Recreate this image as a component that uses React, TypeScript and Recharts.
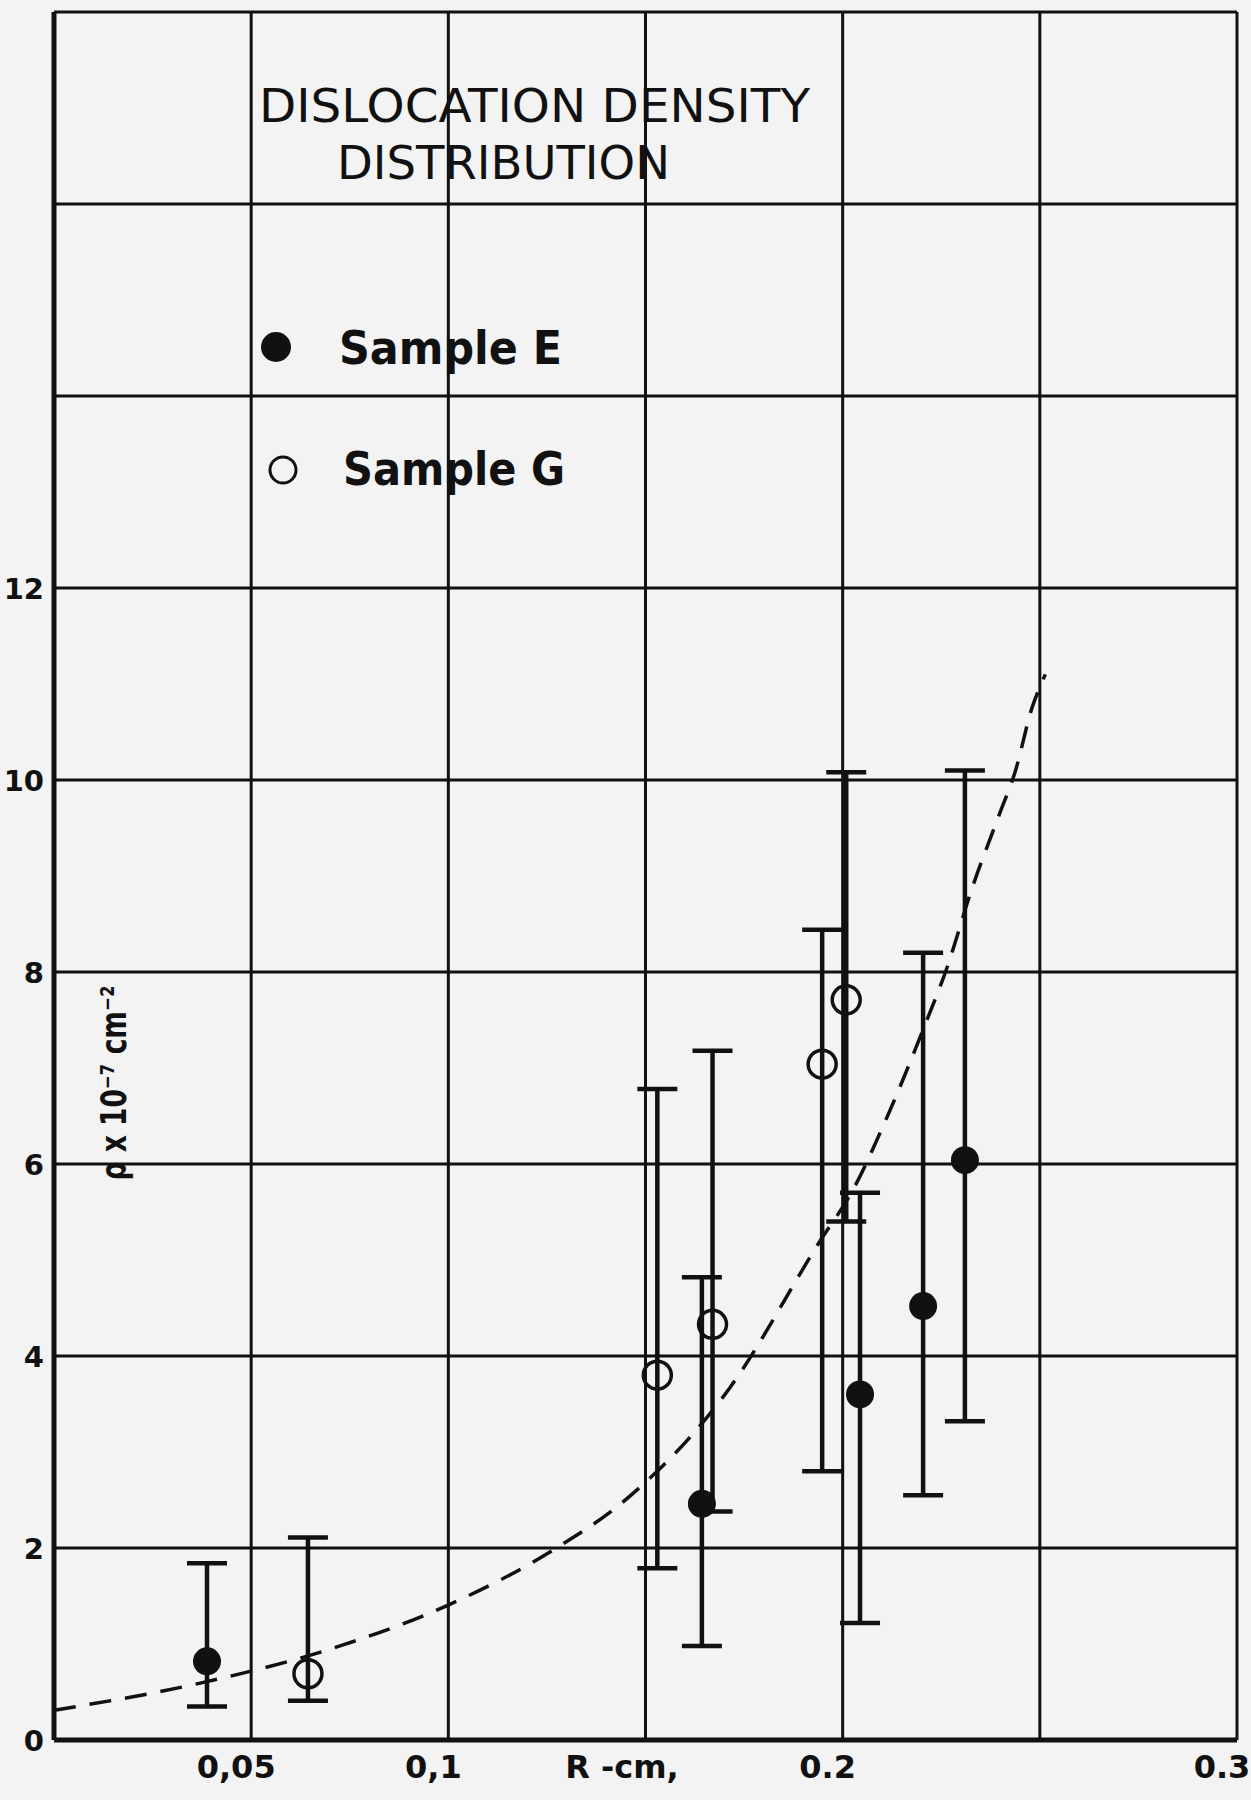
import React from "react";
import { ComposedChart, Scatter, Line, XAxis, YAxis, CartesianGrid, ErrorBar } from "recharts";

// Sample E (filled circles): R in cm, rho x 10^7 cm^-2, error bar low / high
const sampleEX = [0.0388, 0.1643, 0.2044, 0.2204, 0.231];
const sampleEY = [0.82, 2.46, 3.6, 4.52, 6.04];
const sampleELo = [0.35, 0.98, 1.22, 2.55, 3.32];
const sampleEHi = [1.84, 4.82, 5.7, 8.2, 10.1];

// Sample G (open circles)
const sampleGX = [0.0644, 0.153, 0.167, 0.1948, 0.2009];
const sampleGY = [0.69, 3.8, 4.33, 7.04, 7.71];
const sampleGLo = [0.41, 1.79, 2.38, 2.8, 5.4];
const sampleGHi = [2.11, 6.78, 7.18, 8.44, 10.08];

// dashed fit curve
const curveX = [0, 0.0368, 0.0733, 0.0997, 0.1278, 0.144, 0.1714, 0.1943, 0.2026, 0.2102, 0.2204, 0.2265, 0.2328, 0.2399, 0.2437, 0.248, 0.2514];
const curveY = [0.31, 0.59, 0.99, 1.4, 2.01, 2.47, 3.67, 5.2, 5.73, 6.39, 7.4, 8.05, 8.87, 9.66, 10.08, 10.75, 11.1];

const xTicks = [0, 0.05, 0.1, 0.15, 0.2, 0.25, 0.3];
const xTickLabels: Record<string, string> = { "0.05": "0,05", "0.1": "0,1", "0.2": "0.2", "0.3": "0.3" };
const yTicks = [0, 2, 4, 6, 8, 10, 12, 14, 16, 18];
const yLabelMax = 12;

const INK = "#111";
const FONT = "'DejaVu Sans', sans-serif";

const toPoints = (xs: number[], ys: number[], lo: number[], hi: number[]) =>
  xs.map((x, i) => ({ x, y: ys[i], err: [ys[i] - lo[i], hi[i] - ys[i]] }));

const eData = toPoints(sampleEX, sampleEY, sampleELo, sampleEHi);
const gData = toPoints(sampleGX, sampleGY, sampleGLo, sampleGHi);
const curveData = curveX.map((x, i) => ({ x, y: curveY[i] }));

function FilledDot(props: any) {
  const { cx, cy } = props;
  if (cx == null || cy == null) return null;
  return <circle cx={cx} cy={cy} r={14} fill={INK} />;
}

function OpenDot(props: any) {
  const { cx, cy } = props;
  if (cx == null || cy == null) return null;
  return <circle cx={cx} cy={cy} r={14} fill="none" stroke={INK} strokeWidth={3.5} />;
}

function XTick(props: any) {
  const { x, y, payload } = props;
  const label = xTickLabels[String(payload.value)];
  if (!label) return null;
  return (
    <text x={x - 15} y={y + 38} textAnchor="middle" fontFamily={FONT} fontWeight="bold" fontSize={32} fill={INK}>
      {label}
    </text>
  );
}

function YTick(props: any) {
  const { x, y, payload } = props;
  if (payload.value > yLabelMax) return null;
  return (
    <text x={x - 10} y={y + 11} textAnchor="end" fontFamily={FONT} fontWeight="bold" fontSize={29} fill={INK}>
      {payload.value}
    </text>
  );
}

export default function App() {
  return (
    <div style={{ position: "absolute", left: 0, top: 0, width: 1251, height: 1800, background: "#f3f3f3" }}>
      <ComposedChart width={1251} height={1800} margin={{ top: 12, right: 14, bottom: 0, left: 0 }}>
        <CartesianGrid stroke={INK} strokeWidth={3} />
        <XAxis
          type="number"
          dataKey="x"
          domain={[0, 0.3]}
          ticks={xTicks}
          height={60}
          tick={<XTick />}
          tickLine={false}
          tickSize={0}
          tickMargin={0}
          axisLine={{ stroke: INK, strokeWidth: 5 }}
          interval={0}
        />
        <YAxis
          type="number"
          dataKey="y"
          domain={[0, 18]}
          ticks={yTicks}
          width={54}
          tick={<YTick />}
          tickLine={false}
          tickSize={0}
          tickMargin={0}
          axisLine={{ stroke: INK, strokeWidth: 5 }}
          interval={0}
        />
        <Line
          data={curveData}
          dataKey="y"
          type="monotone"
          stroke={INK}
          strokeWidth={3.5}
          strokeDasharray="22 14"
          dot={false}
          activeDot={false}
          isAnimationActive={false}
        />
        <Scatter name="Sample E" data={eData} shape={<FilledDot />} isAnimationActive={false}>
          <ErrorBar dataKey="err" direction="y" width={20} stroke={INK} strokeWidth={4.5} isAnimationActive={false} />
        </Scatter>
        <Scatter name="Sample G" data={gData} shape={<OpenDot />} isAnimationActive={false}>
          <ErrorBar dataKey="err" direction="y" width={20} stroke={INK} strokeWidth={4.5} isAnimationActive={false} />
        </Scatter>
      </ComposedChart>
      <svg width={1251} height={1800} style={{ position: "absolute", left: 0, top: 0, pointerEvents: "none" }}>
        <g fontFamily={FONT} fill={INK}>
          <text x={259} y={122} fontSize={46} textLength={551} lengthAdjust="spacingAndGlyphs">
            DISLOCATION  DENSITY
          </text>
          <text x={337} y={179} fontSize={46} textLength={333} lengthAdjust="spacingAndGlyphs">
            DISTRIBUTION
          </text>
          <circle cx={276} cy={347} r={15} fill={INK} />
          <text x={339} y={364} fontSize={46} fontWeight="bold" textLength={223} lengthAdjust="spacingAndGlyphs">
            Sample  E
          </text>
          <circle cx={283} cy={470} r={13} fill="none" stroke={INK} strokeWidth={3} />
          <text x={343} y={485} fontSize={46} fontWeight="bold" textLength={222} lengthAdjust="spacingAndGlyphs">
            Sample  G
          </text>
          <text x={622} y={1778} fontSize={32} fontWeight="bold" textAnchor="middle">
            R -cm,
          </text>
          <text
            x={0}
            y={0}
            fontSize={36}
            fontWeight="bold"
            textAnchor="middle"
            textLength={195}
            lengthAdjust="spacingAndGlyphs"
            transform="translate(126 1083) rotate(-90)"
          >
            ρ x 10⁻⁷ cm⁻²
          </text>
        </g>
      </svg>
    </div>
  );
}
